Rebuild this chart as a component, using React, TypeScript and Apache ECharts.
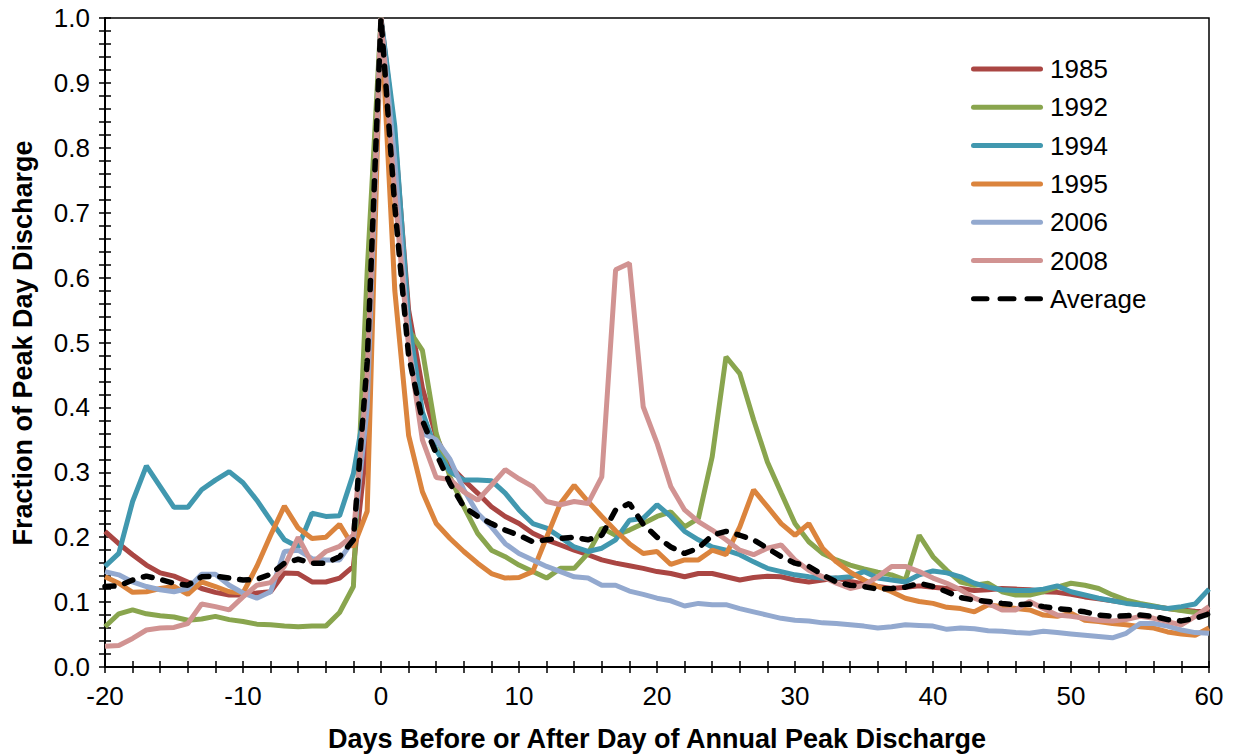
import React, { useEffect, useRef } from "react";
import * as echarts from "echarts";

const DAY_START = -20;

const y1985 = [0.209, 0.19, 0.173, 0.157, 0.145, 0.14, 0.131, 0.121, 0.115, 0.111, 0.111, 0.114, 0.116, 0.145, 0.144, 0.131, 0.131, 0.137, 0.155, 0.35,
  1.0, 0.82, 0.55, 0.43, 0.355, 0.31, 0.288, 0.268, 0.247, 0.232, 0.221, 0.206, 0.196, 0.188, 0.18, 0.173, 0.165, 0.16, 0.156, 0.152, 0.147,
  0.144, 0.139, 0.144, 0.144, 0.139, 0.134, 0.138, 0.14, 0.139, 0.134, 0.131, 0.134, 0.137, 0.132, 0.128, 0.124, 0.121, 0.123, 0.125, 0.123,
  0.121, 0.121, 0.118, 0.119, 0.121, 0.12, 0.119, 0.116, 0.115, 0.112, 0.108, 0.105, 0.102, 0.099, 0.096, 0.093, 0.09, 0.088, 0.086, 0.085];

const y1992 = [0.062, 0.082, 0.088, 0.082, 0.079, 0.077, 0.072, 0.074, 0.078, 0.073, 0.07, 0.066, 0.065, 0.063, 0.062, 0.063, 0.063, 0.084, 0.124, 0.61,
  1.0, 0.76, 0.52, 0.488, 0.36, 0.293, 0.247, 0.206, 0.18, 0.17, 0.157, 0.147, 0.137, 0.152, 0.152, 0.175, 0.214, 0.203, 0.211, 0.221, 0.232,
  0.239, 0.216, 0.229, 0.324, 0.478, 0.452, 0.381, 0.316, 0.268, 0.221, 0.193, 0.175, 0.165, 0.157, 0.151, 0.146, 0.142, 0.134, 0.203, 0.17,
  0.149, 0.131, 0.126, 0.129, 0.116, 0.111, 0.111, 0.116, 0.123, 0.129, 0.126, 0.121, 0.111, 0.103, 0.098, 0.094, 0.09, 0.087, 0.084, 0.08];

const y1994 = [0.155, 0.175, 0.255, 0.31, 0.278, 0.246, 0.246, 0.273, 0.288, 0.301, 0.284, 0.257, 0.226, 0.196, 0.185, 0.237, 0.232, 0.233, 0.298, 0.42,
  1.0, 0.833, 0.535, 0.393, 0.334, 0.301, 0.288, 0.288, 0.287, 0.268, 0.242, 0.221, 0.214, 0.2, 0.185, 0.178, 0.183, 0.196, 0.226, 0.229, 0.25,
  0.232, 0.209, 0.196, 0.185, 0.18, 0.173, 0.162, 0.152, 0.147, 0.142, 0.139, 0.137, 0.137, 0.139, 0.147, 0.137, 0.134, 0.131, 0.142, 0.148,
  0.145, 0.139, 0.129, 0.123, 0.119, 0.118, 0.118, 0.12, 0.125, 0.116, 0.111, 0.106, 0.102, 0.098, 0.096, 0.093, 0.09, 0.093, 0.097, 0.12];

const y1995 = [0.139, 0.129, 0.115, 0.116, 0.121, 0.124, 0.112, 0.131, 0.124, 0.116, 0.114, 0.155, 0.203, 0.248, 0.214, 0.198, 0.2, 0.22, 0.185, 0.24,
  1.0, 0.58, 0.357, 0.27, 0.221, 0.198, 0.178, 0.16, 0.144, 0.137, 0.138, 0.147, 0.2, 0.252, 0.28, 0.255, 0.232, 0.21, 0.19, 0.175, 0.178,
  0.158, 0.165, 0.165, 0.18, 0.173, 0.216, 0.273, 0.247, 0.221, 0.203, 0.221, 0.183, 0.162, 0.146, 0.134, 0.124, 0.116, 0.106, 0.101, 0.098,
  0.092, 0.09, 0.085, 0.096, 0.093, 0.09, 0.088, 0.08, 0.078, 0.083, 0.072, 0.07, 0.067, 0.065, 0.062, 0.06, 0.054, 0.051, 0.049, 0.06];

const y2006 = [0.147, 0.142, 0.131, 0.124, 0.119, 0.116, 0.121, 0.143, 0.143, 0.126, 0.114, 0.106, 0.116, 0.178, 0.18, 0.167, 0.165, 0.165, 0.196, 0.4,
  1.0, 0.78, 0.5, 0.36, 0.35, 0.32, 0.273, 0.237, 0.216, 0.19, 0.175, 0.165, 0.155, 0.147, 0.139, 0.137, 0.126, 0.126, 0.117, 0.112, 0.106,
  0.102, 0.094, 0.098, 0.096, 0.096, 0.09, 0.085, 0.08, 0.075, 0.072, 0.071, 0.068, 0.067, 0.065, 0.063, 0.06, 0.062, 0.065, 0.064, 0.063,
  0.058, 0.06, 0.059, 0.056, 0.055, 0.053, 0.052, 0.055, 0.053, 0.051, 0.049, 0.047, 0.045, 0.052, 0.067, 0.067, 0.063, 0.057, 0.053, 0.052];

const y2008 = [0.032, 0.033, 0.044, 0.057, 0.06, 0.061, 0.067, 0.097, 0.093, 0.088, 0.108, 0.126, 0.13, 0.155, 0.2, 0.16, 0.178, 0.186, 0.203, 0.45,
  1.0, 0.73, 0.494, 0.35, 0.292, 0.289, 0.27, 0.257, 0.28, 0.304, 0.29, 0.278, 0.255, 0.25, 0.255, 0.252, 0.293, 0.612, 0.622, 0.401, 0.345,
  0.278, 0.242, 0.224, 0.211, 0.196, 0.18, 0.173, 0.183, 0.188, 0.165, 0.149, 0.139, 0.129, 0.121, 0.126, 0.139, 0.155, 0.155, 0.147, 0.137,
  0.129, 0.119, 0.106, 0.098, 0.088, 0.088, 0.101, 0.09, 0.08, 0.078, 0.075, 0.072, 0.071, 0.073, 0.078, 0.075, 0.07, 0.065, 0.078, 0.093];

const yAverage = [0.124, 0.125, 0.134, 0.14, 0.135, 0.129, 0.126, 0.139, 0.14, 0.137, 0.134, 0.135, 0.143, 0.16, 0.166, 0.16, 0.16, 0.17, 0.196, 0.47,
  1.0, 0.71, 0.48, 0.38, 0.329, 0.283, 0.247, 0.232, 0.221, 0.211, 0.203, 0.193, 0.196, 0.198, 0.2, 0.196, 0.203, 0.242, 0.252, 0.22, 0.2,
  0.185, 0.175, 0.183, 0.203, 0.209, 0.203, 0.196, 0.183, 0.17, 0.16, 0.155, 0.142, 0.131, 0.126, 0.124, 0.12, 0.121, 0.123, 0.129, 0.124,
  0.116, 0.107, 0.103, 0.101, 0.098, 0.096, 0.097, 0.093, 0.09, 0.088, 0.085, 0.08, 0.078, 0.079, 0.08, 0.078, 0.073, 0.071, 0.075, 0.082];

const seriesNames = ["1985", "1992", "1994", "1995", "2006", "2008", "Average"];
const seriesValues = [y1985, y1992, y1994, y1995, y2006, y2008, yAverage];
const seriesColors = ["#AA4643", "#89A54E", "#4198AF", "#DB843D", "#93A9CF", "#D19392", "#000000"];

const X_MIN = -20;
const X_MAX = 60;
const Y_MIN = 0;
const Y_MAX = 1;

const FONT = "'Liberation Sans', Arial, sans-serif";

const SOLID_ICON = "path://M2.5 0H69.5A2.5 2.5 0 0 1 69.5 5H2.5A2.5 2.5 0 0 1 2.5 0Z";
const DASH_ICON = "path://M2.5 0H16A2.5 2.5 0 0 1 16 5H2.5A2.5 2.5 0 0 1 2.5 0ZM29 0H43A2.5 2.5 0 0 1 43 5H29A2.5 2.5 0 0 1 29 0ZM56 0H69.5A2.5 2.5 0 0 1 69.5 5H56A2.5 2.5 0 0 1 56 0Z";

export default function App() {
  const ref = useRef<HTMLDivElement>(null);
  useEffect(() => {
    if (!ref.current) return;
    const chart = echarts.init(ref.current, undefined, { renderer: "svg" });

    const series: any[] = seriesNames.map((name, i) => {
      const isAvg = name === "Average";
      return {
        name,
        type: "line",
        data: seriesValues[i].map((v, k) => [DAY_START + k, v]),
        showSymbol: false,
        itemStyle: { color: seriesColors[i] },
        lineStyle: isAvg
          ? { color: "#000", width: 5.5, type: [9, 11], cap: "round" }
          : { color: seriesColors[i], width: 5 },
        z: 2 + i,
      };
    });

    const xLabelFmt = (v: number) => (Math.abs(v % 10) < 1e-9 ? String(v) : "");
    const yLabelFmt = (v: number) =>
      Math.abs(v * 10 - Math.round(v * 10)) < 1e-6 ? v.toFixed(1) : "";

    chart.setOption({
      animation: false,
      backgroundColor: "#fff",
      textStyle: { fontFamily: FONT },
      grid: {
        left: 105,
        right: 25,
        top: 18,
        bottom: 88,
        show: true,
        borderColor: "#000",
        borderWidth: 1.5,
        backgroundColor: "transparent",
      },
      legend: {
        orient: "vertical",
        left: 971,
        top: 56,
        padding: 0,
        itemWidth: 72,
        itemHeight: 5,
        itemGap: 12.3,
        textStyle: { fontSize: 26, color: "#000", fontFamily: FONT, lineHeight: 26, padding: [0, 0, 0, 2] },
        data: seriesNames.map((n, i) => ({
          name: n,
          icon: n === "Average" ? DASH_ICON : SOLID_ICON,
          itemStyle: { color: seriesColors[i] },
        })),
      },
      xAxis: [
        {
          type: "value",
          min: X_MIN,
          max: X_MAX,
          interval: 2,
          position: "bottom",
          axisLine: { show: true, onZero: false, lineStyle: { color: "#000", width: 2 } },
          axisTick: { show: true, inside: false, length: 6, lineStyle: { color: "#000", width: 1.5 } },
          axisLabel: { formatter: xLabelFmt, fontSize: 26, color: "#000", margin: 16, fontFamily: FONT },
          splitLine: { show: false },
        },
        {
          type: "value",
          min: X_MIN,
          max: X_MAX,
          interval: 2,
          position: "bottom",
          axisLine: { show: false, onZero: false },
          axisTick: { show: true, inside: true, length: 6, lineStyle: { color: "#000", width: 1.5 } },
          axisLabel: { show: false },
          splitLine: { show: false },
        },
      ],
      yAxis: [
        {
          type: "value",
          min: Y_MIN,
          max: Y_MAX,
          interval: 0.02,
          position: "left",
          axisLine: { show: true, onZero: false, lineStyle: { color: "#000", width: 2 } },
          axisTick: { show: true, inside: false, length: 6, lineStyle: { color: "#000", width: 1.5 } },
          axisLabel: { formatter: yLabelFmt, fontSize: 26, color: "#000", margin: 15, fontFamily: FONT },
          splitLine: { show: false },
        },
        {
          type: "value",
          min: Y_MIN,
          max: Y_MAX,
          interval: 0.02,
          position: "left",
          axisLine: { show: false, onZero: false },
          axisTick: { show: true, inside: true, length: 6, lineStyle: { color: "#000", width: 1.5 } },
          axisLabel: { show: false },
          splitLine: { show: false },
        },
      ],
      graphic: [
        {
          type: "text",
          x: 657,
          y: 739,
          style: {
            text: "Days Before or After Day of Annual Peak Discharge",
            textAlign: "center",
            textVerticalAlign: "middle",
            font: "bold 27px " + FONT,
            fill: "#000",
          },
        },
        {
          type: "text",
          x: 23,
          y: 343,
          rotation: Math.PI / 2,
          style: {
            text: "Fraction of Peak Day Discharge",
            textAlign: "center",
            textVerticalAlign: "middle",
            font: "bold 27px " + FONT,
            fill: "#000",
          },
        },
      ],
      series,
    });
    return () => chart.dispose();
  }, []);
  return (
    <div
      ref={ref}
      style={{ position: "fixed", left: 0, top: 0, width: 1234, height: 755, background: "#fff" }}
    />
  );
}
